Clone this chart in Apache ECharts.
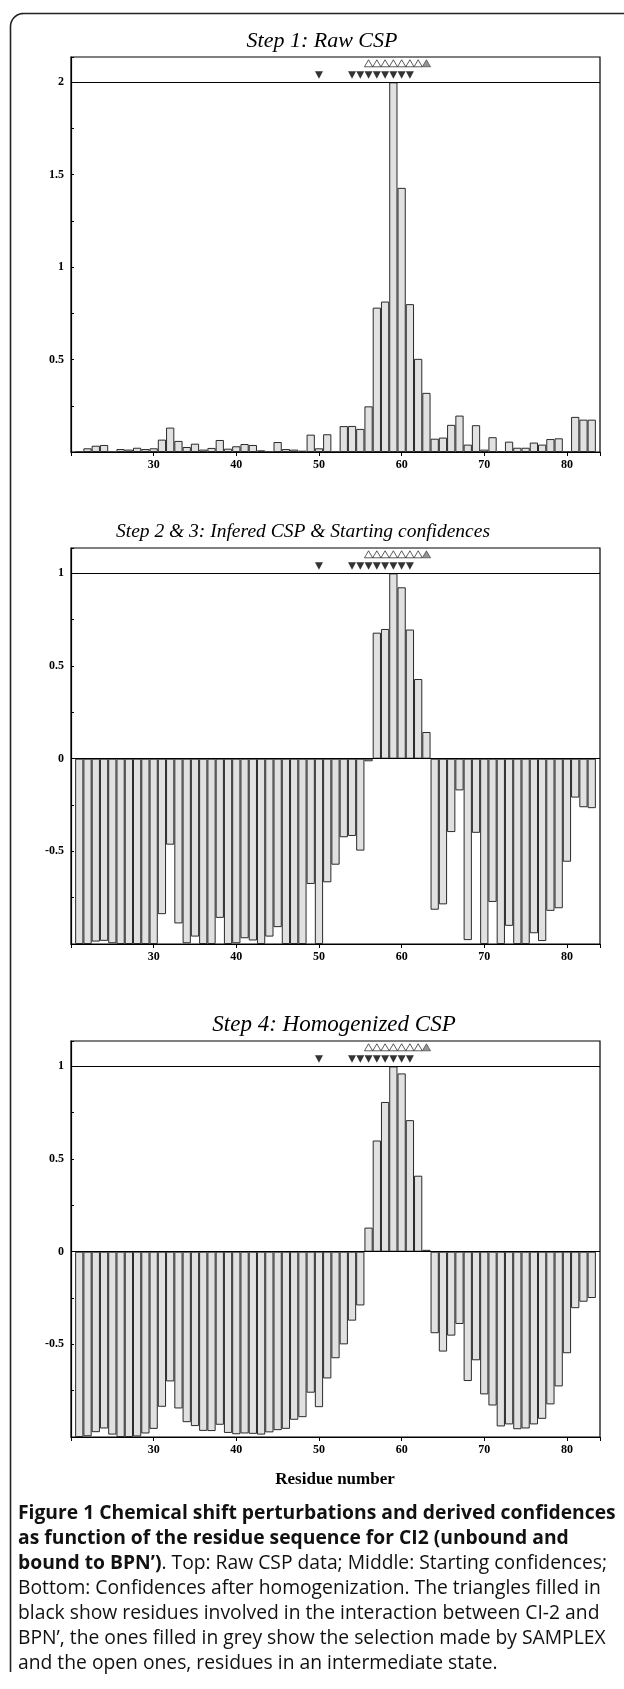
<!DOCTYPE html>
<html><head><meta charset="utf-8">
<script src="https://cdn.jsdelivr.net/npm/echarts@6/dist/echarts.min.js"></script>
<style>html,body{margin:0;padding:0;background:#fff}#c{width:624px;height:1689px}</style>
</head><body><div id="c"></div>
<script>
// ---------------- data ----------------
const residues = [21,22,23,24,25,26,27,28,29,30,31,32,33,34,35,36,37,38,39,40,41,42,43,44,45,46,47,48,49,50,51,52,53,54,55,56,57,58,59,60,61,62,63,64,65,66,67,68,69,70,71,72,73,74,75,76,77,78,79,80,81,82,83];
const rawCSP = [0,0.020,0.034,0.038,0,0.016,0.013,0.023,0.016,0.020,0.067,0.132,0.060,0.027,0.045,0.013,0.022,0.065,0.018,0.031,0.043,0.038,0.009,0,0.054,0.016,0.013,0.007,0.094,0.020,0.096,0,0.140,0.141,0.125,0.247,0.781,0.814,2.0,1.429,0.80,0.504,0.32,0.072,0.078,0.147,0.197,0.040,0.145,0.013,0.080,0.005,0.056,0.023,0.023,0.051,0.040,0.070,0.074,0,0.190,0.175,0.175];
const startConf = [-1.0,-1.0,-0.987,-0.983,-0.996,-1.0,-1.0,-1.0,-1.0,-1.0,-0.839,-0.464,-0.889,-0.996,-0.960,-1.0,-1.0,-0.859,-1.0,-0.996,-0.969,-0.981,-1.0,-0.960,-0.909,-1.0,-1.0,-1.0,-0.676,-1.0,-0.667,-0.572,-0.424,-0.417,-0.496,-0.014,0.68,0.70,1.0,0.925,0.697,0.43,0.144,-0.815,-0.786,-0.396,-0.171,-0.979,-0.400,-1.0,-0.773,-1.0,-0.902,-1.0,-1.0,-0.942,-0.984,-0.821,-0.807,-0.556,-0.21,-0.262,-0.267];
const homConf = [-1.0,-0.996,-0.974,-0.954,-0.987,-1.0,-1.0,-0.997,-0.981,-0.956,-0.837,-0.700,-0.846,-0.920,-0.941,-0.967,-0.968,-0.934,-0.978,-0.985,-0.981,-0.983,-0.987,-0.975,-0.963,-0.956,-0.907,-0.893,-0.761,-0.839,-0.684,-0.575,-0.50,-0.372,-0.29,0.13,0.60,0.808,1.0,0.962,0.71,0.41,0.01,-0.44,-0.539,-0.453,-0.39,-0.698,-0.586,-0.77,-0.83,-0.943,-0.932,-0.958,-0.954,-0.932,-0.902,-0.824,-0.727,-0.548,-0.305,-0.27,-0.25];
const interactionResidues = [50,54,55,56,57,58,59,60,61];   // filled black
const intermediateResidues = [56,57,58,59,60,61,62];        // open
const samplexResidues = [63];                               // filled grey
const xTickLabels = [30,40,50,60,70,80];
const yTickLabels = [[0.5,1,1.5,2],[-0.5,0,0.5,1],[-0.5,0,0.5,1]];
const panelTitles = ['Step 1: Raw CSP','Step 2 & 3: Infered CSP & Starting confidences','Step 4: Homogenized CSP'];
const xAxisTitle = 'Residue number';
const captionLines = [
  [['b','Figure 1 Chemical shift perturbations and derived confidences']],
  [['b','as function of the residue sequence for CI2 (unbound and']],
  [['b','bound to BPN\u2019)'],['n','. Top: Raw CSP data; Middle: Starting confidences;']],
  [['n','Bottom: Confidences after homogenization. The triangles filled in']],
  [['n','black show residues involved in the interaction between CI-2 and']],
  [['n','BPN\u2019, the ones filled in grey show the selection made by SAMPLEX']],
  [['n','and the open ones, residues in an intermediate state.']]
];

// ---------------- layout ----------------
const panelValues = [rawCSP, startConf, homConf];
const grids = [
  {left:71, top:57, width:529, height:395},
  {left:71, top:548, width:529, height:396},
  {left:71, top:1041, width:529, height:396}
];
const yRange = [
  {min:0, max:2.137, line:2},
  {min:-1, max:1.137, line:1},
  {min:-1, max:1.137, line:1}
];
const titleLayout = [{x:322, y:41, size:22}, {x:303, y:532, size:19.5}, {x:334, y:1025, size:23}];
const serif = '"Liberation Serif", "DejaVu Serif", serif';
const sans = '"Open Sans", "Noto Sans", sans-serif';

const ctx = document.createElement('canvas').getContext('2d');
ctx.font = 'bold 100px ' + sans;
const capFs = Math.round(100 * 598 / ctx.measureText(captionLines[0][0][1]).width * 10) / 10;

const xAxes = [], yAxes = [], series = [];
grids.forEach((g, i) => {
  const yr = yRange[i];
  xAxes.push({
    gridIndex:i, type:'value', min:20, max:84, interval:10, z:5,
    axisLine:{show:true, onZero:false, lineStyle:{color:'#000', width:1.2}},
    axisTick:{show:true, inside:false, length:4, lineStyle:{color:'#000', width:1}},
    axisLabel:{formatter:v => xTickLabels.includes(v) ? String(v) : '', fontFamily:serif, fontWeight:'bold', fontSize:12, color:'#000', margin:7},
    splitLine:{show:false}
  });
  yAxes.push({
    gridIndex:i, type:'value', min:yr.min, max:yr.max, interval:0.25, z:5,
    axisLine:{show:true, onZero:false, lineStyle:{color:'#000', width:1.2}},
    axisTick:{show:true, inside:true, length:3, lineStyle:{color:'#000', width:1}},
    axisLabel:{formatter:v => {
        const hit = yTickLabels[i].find(t => Math.abs(t - v) < 1e-6);
        return hit === undefined ? '' : String(hit);
      }, fontFamily:serif, fontWeight:'bold', fontSize:12, color:'#000', margin:7},
    splitLine:{show:false}
  });
  const lines = [{yAxis:yr.line}];
  if (yr.min < 0) lines.push({yAxis:0});
  series.push({
    type:'bar', xAxisIndex:i, yAxisIndex:i, barWidth:8.27,
    data: residues.map((r, k) => [r, panelValues[i][k]]),
    itemStyle:{color:'#e1e1e1', borderColor:'#2a2a2a', borderWidth:1},
    markLine:{silent:true, symbol:['none','none'], label:{show:false}, animation:false,
      lineStyle:{color:'#000', width:1.2, type:'solid'}, data:lines},
    animation:false
  });
  series.push({
    type:'scatter', xAxisIndex:i, yAxisIndex:i, symbol:'triangle', symbolRotate:180, symbolSize:[8,7.5],
    data: interactionResidues.map(r => [r, yr.line + 0.04]),
    itemStyle:{color:'#000'}, animation:false, z:6
  });
  series.push({
    type:'scatter', xAxisIndex:i, yAxisIndex:i, symbol:'triangle', symbolSize:[8.2,7],
    data: intermediateResidues.map(r => [r, yr.line + 0.103]),
    itemStyle:{color:'#fff', borderColor:'#000', borderWidth:0.8}, animation:false, z:6
  });
  series.push({
    type:'scatter', xAxisIndex:i, yAxisIndex:i, symbol:'triangle', symbolSize:[8.2,7],
    data: samplexResidues.map(r => [r, yr.line + 0.103]),
    itemStyle:{color:'#7a7a7a', borderColor:'#333', borderWidth:0.8}, animation:false, z:6
  });
});

// frame with rounded top-left corner
const R = 13, fx = 10.5, fy = 13.5;
const framePts = [[fx, 1672]];
for (let a = 0; a <= 14; a++) {
  const t = Math.PI + a / 14 * Math.PI / 2;
  framePts.push([fx + R + R * Math.cos(t), fy + R + R * Math.sin(t)]);
}
framePts.push([624, fy]);

const graphics = [
  {type:'polyline', shape:{points:framePts}, style:{stroke:'#222', lineWidth:1.6, fill:null}, silent:true}
];
panelTitles.forEach((t, i) => graphics.push({
  type:'text', x:titleLayout[i].x, y:titleLayout[i].y,
  style:{text:t, fontFamily:serif, fontStyle:'italic', fontSize:titleLayout[i].size, fill:'#000', align:'center', verticalAlign:'middle'}
}));
graphics.push({type:'text', x:335, y:1480,
  style:{text:xAxisTitle, fontFamily:serif, fontWeight:'bold', fontSize:17, fill:'#000', align:'center', verticalAlign:'middle'}});
const capText = captionLines.map(l => l.map(([s, t]) => '{' + s + '|' + t + '}').join('')).join('\n');
graphics.push({type:'text', x:18, y:1501,
  style:{text:capText, align:'left', verticalAlign:'top',
    rich:{
      b:{fontFamily:sans, fontWeight:'bold', fontSize:capFs, lineHeight:25, fill:'#111'},
      n:{fontFamily:sans, fontWeight:'normal', fontSize:capFs, lineHeight:25, fill:'#111'}
    }}});

const chart = echarts.init(document.getElementById('c'), null, {renderer:'canvas'});
chart.setOption({
  animation:false,
  backgroundColor:'#fff',
  grid: grids.map(g => Object.assign({show:true, borderColor:'#000', borderWidth:1.2, backgroundColor:'transparent', containLabel:false, outerBoundsMode:'none'}, g)),
  xAxis:xAxes, yAxis:yAxes, series:series, graphic:graphics
});
</script></body></html>
